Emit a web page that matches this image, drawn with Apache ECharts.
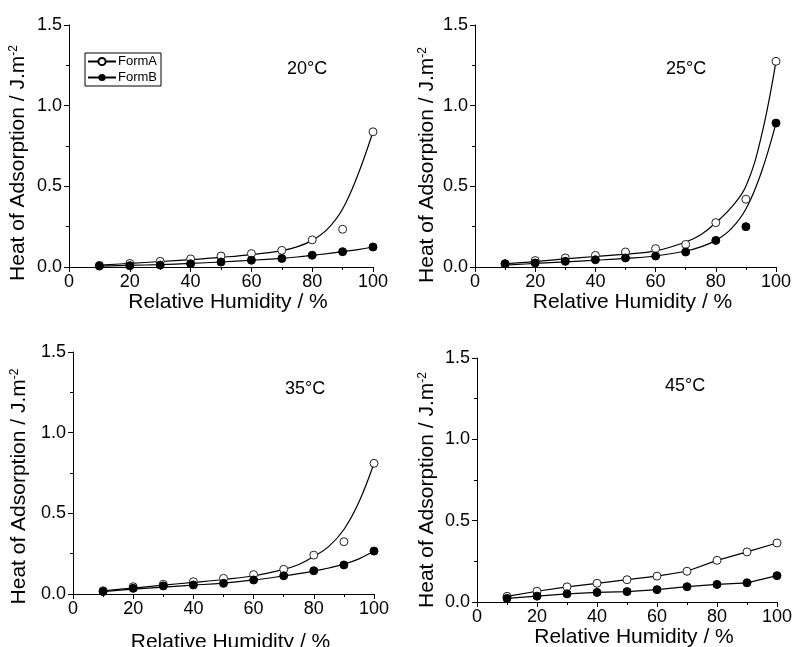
<!DOCTYPE html>
<html>
<head>
<meta charset="utf-8">
<script src="https://cdn.jsdelivr.net/npm/echarts@6/dist/echarts.min.js"></script>
<style>
  html, body { margin: 0; padding: 0; background: #fff; }
  #chart { width: 792px; height: 647px; }
</style>
</head>
<body>
<div id="chart"></div>
<script>
// relative humidity of the measured points
const humidity = [10, 20, 30, 40, 50, 60, 70, 80, 90, 100];
const fitHumidity = [10, 20, 30, 40, 50, 60, 70, 75, 80, 85, 90, 95, 100];

const panelTitles = ['20°C', '25°C', '35°C', '45°C'];

// measured points (J.m-2)
const formA20 = [0.010, 0.022, 0.035, 0.050, 0.068, 0.083, 0.103, 0.168, 0.234, 0.838];
const formB20 = [0.006, 0.008, 0.012, 0.020, 0.031, 0.042, 0.053, 0.073, 0.095, 0.124];
const formA25 = [0.020, 0.040, 0.056, 0.072, 0.093, 0.114, 0.140, 0.275, 0.420, 1.275];
const formB25 = [0.020, 0.025, 0.035, 0.045, 0.056, 0.068, 0.093, 0.165, 0.250, 0.892];
const formA35 = [0.020, 0.045, 0.060, 0.076, 0.097, 0.120, 0.153, 0.241, 0.324, 0.810];
const formB35 = [0.015, 0.035, 0.050, 0.056, 0.066, 0.087, 0.113, 0.144, 0.180, 0.266];
const formA45 = [0.035, 0.066, 0.093, 0.115, 0.137, 0.159, 0.189, 0.256, 0.308, 0.363];
const formB45 = [0.022, 0.036, 0.050, 0.059, 0.064, 0.076, 0.094, 0.108, 0.118, 0.162];

// fitted curves (20, 25, 35 °C)
const fitA20 = [0.012, 0.022, 0.034, 0.046, 0.060, 0.077, 0.102, 0.125, 0.165, 0.235, 0.360, 0.570, 0.838];
const fitB20 = [0.005, 0.010, 0.015, 0.022, 0.031, 0.042, 0.054, 0.062, 0.072, 0.083, 0.095, 0.108, 0.124];
const fitA25 = [0.020, 0.033, 0.050, 0.065, 0.080, 0.100, 0.155, 0.200, 0.275, 0.366, 0.500, 0.800, 1.275];
const fitB25 = [0.012, 0.022, 0.032, 0.042, 0.053, 0.068, 0.099, 0.125, 0.165, 0.235, 0.360, 0.580, 0.892];
const fitA35 = [0.020, 0.037, 0.055, 0.072, 0.090, 0.113, 0.153, 0.183, 0.232, 0.295, 0.400, 0.570, 0.810];
const fitB35 = [0.015, 0.030, 0.043, 0.055, 0.068, 0.087, 0.112, 0.126, 0.142, 0.161, 0.185, 0.218, 0.266];

const FONT = '"Liberation Sans", Arial, Helvetica, sans-serif';

const pair = (xs, ys) => xs.map((x, i) => [x, ys[i]]);

const grids = [
  { left: 69, top: 25, width: 304, height: 242, outerBoundsMode: 'none' },
  { left: 475, top: 25, width: 301, height: 242, outerBoundsMode: 'none' },
  { left: 73, top: 352, width: 301, height: 242, outerBoundsMode: 'none' },
  { left: 477, top: 358, width: 300, height: 244, outerBoundsMode: 'none' }
];
// per panel: x-name gap, y-name gap, y-name shift (padding)
const xNameGap = [22, 23, 38, 25];
const yNameGap = [40, 37, 43, 39];
const yNameShift = [34, 38, 27, 20];

const xAxes = grids.map((g, i) => ({
  gridIndex: i,
  type: 'value',
  min: 0,
  max: 100,
  interval: 20,
  name: 'Relative Humidity / %',
  nameLocation: 'middle',
  nameGap: xNameGap[i],
  nameTextStyle: { fontFamily: FONT, fontSize: 21, color: '#000', padding: [0, 0, 0, 14] },
  axisLine: { show: true, onZero: false, lineStyle: { color: '#000', width: 1 } },
  axisTick: { show: true, length: 5, lineStyle: { color: '#000' } },
  minorTick: { show: true, splitNumber: 2, length: 3, lineStyle: { color: '#000' } },
  axisLabel: { fontFamily: FONT, fontSize: 18, color: '#000', margin: 6 },
  splitLine: { show: false }
}));

const yAxes = grids.map((g, i) => ({
  gridIndex: i,
  type: 'value',
  min: 0,
  max: 1.5,
  interval: 0.5,
  name: '{a|Heat of Adsorption / J.m}{b|-2}',
  nameLocation: 'middle',
  nameGap: yNameGap[i],
  nameTextStyle: {
    fontFamily: FONT, fontSize: 21, color: '#000',
    padding: [0, yNameShift[i], 0, 0],
    rich: {
      a: { fontFamily: FONT, fontSize: 21, color: '#000' },
      b: { fontFamily: FONT, fontSize: 12, color: '#000', verticalAlign: 'top', padding: [0, 0, 6, 0] }
    }
  },
  axisLine: { show: true, onZero: false, lineStyle: { color: '#000', width: 1 } },
  axisTick: { show: true, length: 5, lineStyle: { color: '#000' } },
  minorTick: { show: true, splitNumber: 2, length: 3, lineStyle: { color: '#000' } },
  axisLabel: { fontFamily: FONT, fontSize: 18, color: '#000', margin: 7, formatter: v => v.toFixed(1) },
  splitLine: { show: false }
}));

const openDot = { color: '#fff', borderColor: '#222', borderWidth: 1, opacity: 1 };
const fullDot = { color: '#000', borderColor: '#000', borderWidth: 1, opacity: 1 };

function fitSeries(idx, name, ys, symbol) {
  return {
    name, type: 'line', xAxisIndex: idx, yAxisIndex: idx,
    data: pair(fitHumidity, ys), smooth: 0.4, symbol, showSymbol: false,
    itemStyle: { color: '#000' },
    lineStyle: { color: '#000', width: 1.2 }, silent: true, z: 2
  };
}
function pointSeries(idx, name, ys, style) {
  return {
    name, type: 'scatter', xAxisIndex: idx, yAxisIndex: idx,
    data: pair(humidity, ys), symbol: 'circle', symbolSize: 8,
    itemStyle: style, z: 3
  };
}

const series = [
  fitSeries(0, 'FormA', fitA20, 'emptyCircle'),
  fitSeries(0, 'FormB', fitB20, 'circle'),
  pointSeries(0, 'FormA', formA20, openDot),
  pointSeries(0, 'FormB', formB20, fullDot),
  fitSeries(1, 'FormA', fitA25, 'emptyCircle'),
  fitSeries(1, 'FormB', fitB25, 'circle'),
  pointSeries(1, 'FormA', formA25, openDot),
  pointSeries(1, 'FormB', formB25, fullDot),
  fitSeries(2, 'FormA', fitA35, 'emptyCircle'),
  fitSeries(2, 'FormB', fitB35, 'circle'),
  pointSeries(2, 'FormA', formA35, openDot),
  pointSeries(2, 'FormB', formB35, fullDot),
  // 45 °C: points joined by straight segments
  {
    name: 'FormA', type: 'line', xAxisIndex: 3, yAxisIndex: 3,
    data: pair(humidity, formA45), symbol: 'circle', symbolSize: 8,
    itemStyle: openDot, lineStyle: { color: '#000', width: 1.2 }
  },
  {
    name: 'FormB', type: 'line', xAxisIndex: 3, yAxisIndex: 3,
    data: pair(humidity, formB45), symbol: 'circle', symbolSize: 8,
    itemStyle: fullDot, lineStyle: { color: '#000', width: 1.2 }
  }
];

const titlePos = [[287, 60], [666, 60], [285, 380], [665, 377]];

const chart = echarts.init(document.getElementById('chart'), null, { renderer: 'canvas' });
chart.setOption({
  animation: false,
  backgroundColor: '#fff',
  title: panelTitles.map((t, i) => ({
    text: t,
    left: titlePos[i][0],
    top: titlePos[i][1],
    padding: 0,
    textStyle: { fontFamily: FONT, fontSize: 18, fontWeight: 'normal', color: '#000' }
  })),
  legend: {
    data: ['FormA', 'FormB'],
    orient: 'vertical',
    left: 85,
    top: 53,
    itemWidth: 28,
    itemHeight: 9,
    itemGap: 3,
    padding: [2, 4, 2, 2],
    borderColor: '#000',
    borderWidth: 1,
    borderRadius: 0,
    selectedMode: false,
    textStyle: { fontFamily: FONT, fontSize: 13, color: '#000', padding: [0, 0, 0, -3] }
  },
  grid: grids,
  xAxis: xAxes,
  yAxis: yAxes,
  series
});
</script>
</body>
</html>
